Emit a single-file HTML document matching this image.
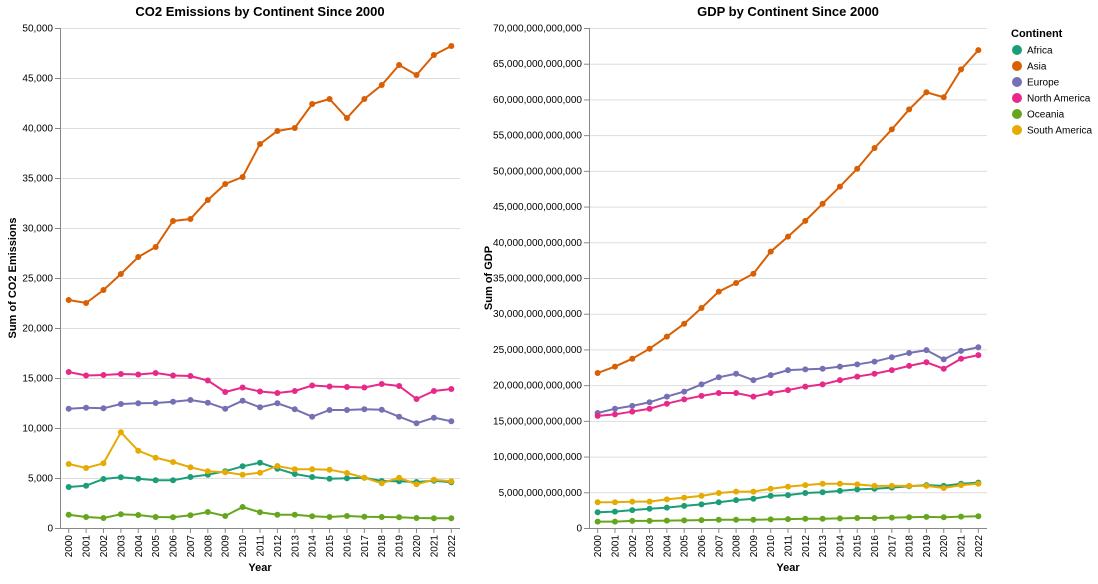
<!DOCTYPE html>
<html><head><meta charset="utf-8"><style>
body{margin:0;background:#fff;font-family:"Liberation Sans",Arial,sans-serif}
svg text{font-family:"Liberation Sans",Arial,sans-serif}
</style></head><body>
<svg id="c" width="1098" height="579"></svg>
<script>
const years=[2000,2001,2002,2003,2004,2005,2006,2007,2008,2009,2010,2011,2012,2013,2014,2015,2016,2017,2018,2019,2020,2021,2022];
const continents=["Africa","Asia","Europe","North America","Oceania","South America"];
const colors=["#1b9e77","#d95f02","#7570b3","#e7298a","#66a61e","#e6ab02"];
const co2Africa=[4100,4230,4900,5070,4930,4770,4770,5100,5330,5670,6170,6530,5930,5400,5100,4930,4970,5030,4700,4670,4600,4730,4570];
const co2Asia=[22800,22500,23800,25400,27100,28100,30700,30900,32800,34400,35100,38400,39700,40000,42400,42900,41000,42900,44300,46300,45300,47300,48200];
const co2Europe=[11930,12030,11970,12400,12470,12500,12630,12800,12530,11930,12730,12070,12470,11870,11130,11800,11800,11870,11830,11130,10470,11030,10670];
const co2NorthAmerica=[15600,15250,15300,15400,15350,15500,15250,15200,14750,13600,14050,13650,13500,13700,14250,14150,14100,14050,14400,14200,12900,13700,13900];
const co2Oceania=[1330,1100,1000,1370,1300,1100,1070,1270,1600,1200,2100,1570,1330,1330,1170,1100,1200,1130,1100,1070,1000,970,970];
const co2SouthAmerica=[6400,6000,6470,9570,7730,7030,6600,6070,5670,5570,5330,5530,6200,5870,5870,5830,5500,5030,4470,5030,4370,4830,4670];
const gdpAfrica=[2.2,2.3,2.5,2.7,2.85,3.1,3.3,3.6,3.9,4.1,4.5,4.6,4.9,5.0,5.2,5.4,5.5,5.65,5.85,6.0,5.9,6.2,6.35];
const gdpAsia=[21.7,22.6,23.7,25.1,26.8,28.6,30.8,33.1,34.3,35.6,38.7,40.8,43.0,45.4,47.8,50.3,53.2,55.8,58.6,61.0,60.3,64.2,66.9];
const gdpEurope=[16.1,16.7,17.1,17.6,18.4,19.1,20.1,21.1,21.6,20.7,21.4,22.1,22.2,22.3,22.6,22.9,23.3,23.9,24.5,24.9,23.6,24.8,25.3];
const gdpNorthAmerica=[15.7,15.9,16.3,16.7,17.4,18.0,18.5,18.9,18.9,18.4,18.9,19.3,19.8,20.1,20.7,21.2,21.6,22.1,22.7,23.2,22.3,23.7,24.2];
const gdpOceania=[0.9,0.9,1.0,1.0,1.03,1.07,1.1,1.15,1.15,1.15,1.2,1.25,1.3,1.3,1.35,1.4,1.4,1.45,1.5,1.55,1.5,1.6,1.65];
const gdpSouthAmerica=[3.6,3.6,3.7,3.7,4.0,4.25,4.5,4.9,5.1,5.1,5.5,5.8,6.0,6.2,6.2,6.1,5.9,5.9,5.9,5.9,5.6,6.0,6.2];
const co2Ticks=[0,5000,10000,15000,20000,25000,30000,35000,40000,45000,50000];
const gdpTicks=[0,5,10,15,20,25,30,35,40,45,50,55,60,65,70];

const NS="http://www.w3.org/2000/svg";
const svg=document.getElementById('c');
function mk(tag,attrs,parent,text){const e=document.createElementNS(NS,tag);for(const k in attrs)e.setAttribute(k,attrs[k]);if(text!==undefined)e.textContent=text;(parent||svg).appendChild(e);return e;}

function chart(cfg){
  const g=mk('g',{});
  
  
  const L=cfg.left,R=cfg.right,T=28,B=528;
  const step=(R-L)/years.length;
  const x=i=>L+step*(i+0.5);
  const y=v=>B-(v/cfg.max)*(B-T);
  cfg.ticks.forEach(t=>{
    mk('line',{x1:L,x2:R,y1:y(t)+0.5,y2:y(t)+0.5,stroke:'#ddd'},g);
    mk('line',{x1:L-5,x2:L,y1:y(t)+0.5,y2:y(t)+0.5,stroke:'#888'},g);
    const tl=mk('text',{x:L-7,y:y(t)+3.5,'text-anchor':'end','font-size':10,fill:'#000'},g,cfg.fmt(t));
    
    
  });
  mk('line',{x1:L+0.5,x2:L+0.5,y1:T,y2:B,stroke:'#888'},g);
  mk('line',{x1:L,x2:R,y1:B+0.5,y2:B+0.5,stroke:'#888'},g);
  years.forEach((yr,i)=>{
    mk('line',{x1:x(i),x2:x(i),y1:B,y2:B+5,stroke:'#888'},g);
    const tl=mk('text',{transform:`translate(${x(i)+3.5},${B+7}) rotate(-90)`,'text-anchor':'end','font-size':10},g,yr);
    
    
  });
  const xt=mk('text',{x:(L+R)/2,y:571,'text-anchor':'middle','font-size':11,'font-weight':'bold'},g,'Year');
  
  
  const yt=mk('text',{transform:`translate(${cfg.ytx},${(T+B)/2}) rotate(-90)`,'text-anchor':'middle','font-size':11,'font-weight':'bold'},g,cfg.ytitle);
  
  
  const ti=mk('text',{x:(L+R)/2,y:16,'text-anchor':'middle','font-size':13,'font-weight':'bold'},g,cfg.title);
  
  
  cfg.series.forEach((s,k)=>{
    const sg=mk('g',{},g);
    
    
    mk('path',{d:s.map((v,i)=>(i?'L':'M')+x(i)+','+y(v)).join(''),fill:'none',stroke:colors[k],'stroke-width':2},sg);
    s.forEach((v,i)=>{
      const c=mk('circle',{cx:x(i),cy:y(v),r:3,fill:colors[k]},sg);
      
      
    });
  });
}
chart({name:'co2-chart',left:60,right:460,max:50000,ticks:co2Ticks,fmt:t=>t.toLocaleString('en-US'),
  series:[co2Africa,co2Asia,co2Europe,co2NorthAmerica,co2Oceania,co2SouthAmerica],
  ytitle:'Sum of CO2 Emissions',ytx:16,title:'CO2 Emissions by Continent Since 2000'});
chart({name:'gdp-chart',left:589,right:987,max:70,ticks:gdpTicks,fmt:t=>(t*1e12).toLocaleString('en-US'),
  series:[gdpAfrica,gdpAsia,gdpEurope,gdpNorthAmerica,gdpOceania,gdpSouthAmerica],
  ytitle:'Sum of GDP',ytx:492,title:'GDP by Continent Since 2000'});
const lg=mk('g',{});


mk('text',{x:1011,y:37,'font-size':11,'font-weight':'bold'},lg,'Continent');
continents.forEach((c,k)=>{
  const e=mk('g',{},lg);
  
  
  mk('circle',{cx:1017,cy:50+k*16,r:5,fill:colors[k]},e);
  mk('text',{x:1027,y:53.5+k*16,'font-size':10},e,c);
});
</script>
</body></html>
